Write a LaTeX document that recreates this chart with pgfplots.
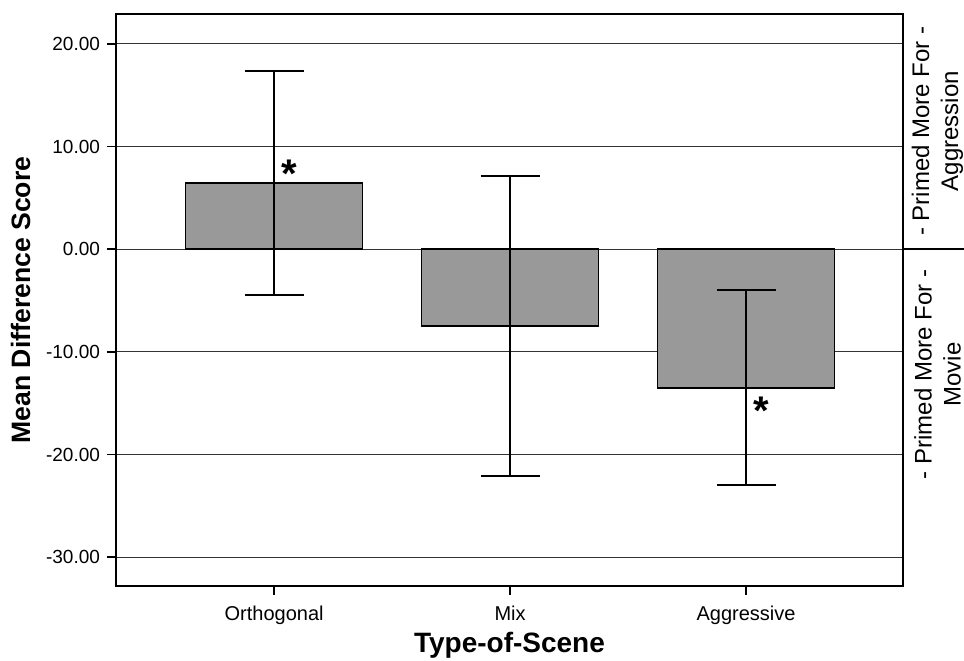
\documentclass[border=0pt]{standalone}
\usepackage{fontspec}
\setmainfont{Liberation Sans}
\usepackage{pgfplots}
\pgfplotsset{compat=1.18}
\definecolor{barfill}{HTML}{999999}
\begin{document}
\begin{tikzpicture}
\begin{axis}[
  at={(0,0)}, anchor=south west,
  scale only axis,
  width=393.5pt, height=286pt,
  xmin=-0.67, xmax=2.665,
  ymin=-32.8, ymax=22.9,
  xtick={0,1,2},
  xticklabels={Orthogonal,Mix,Aggressive},
  ytick={-30,-20,-10,0,10,20},
  yticklabel={\pgfmathprintnumber[fixed,fixed zerofill,precision=2]{\tick}},
  /pgf/number format/assume math mode=true,
  tick align=outside,
  major tick length=4.5pt,
  tick style={black, line width=0.8pt},
  xtick pos=bottom, ytick pos=left,
  ymajorgrids,
  grid style={black!80, line width=0.6pt},
  axis line style={black, line width=0.8pt},
  yticklabel style={font=\fontsize{9.5}{11}\selectfont},
  xticklabel style={font=\fontsize{10}{12}\selectfont, yshift=-2pt},
  xlabel={Type-of-Scene},
  ylabel={Mean Difference Score},
  xlabel style={font=\bfseries\fontsize{14}{16}\selectfont, yshift=3pt},
  ylabel style={font=\bfseries\fontsize{13.3}{15}\selectfont, yshift=1pt},
  clip=false,
]
\addplot[ybar, bar width=0.75, fill=barfill, draw=black, line width=0.7pt,
  error bars/.cd, y dir=both, y explicit,
  error bar style={line width=1pt, black},
  error mark options={rotate=90, mark size=14.75pt, line width=1pt, black}]
  coordinates {
    (0,6.45) +- (0,10.9)
    (1,-7.5) +- (0,14.6)
    (2,-13.5) +- (0,9.5)
  };
\node[font=\bfseries\fontsize{20}{20}\selectfont, inner sep=0pt, anchor=north] at (axis cs:0.066,8.7) {*};
\node[font=\bfseries\fontsize{20}{20}\selectfont, inner sep=0pt, anchor=north] at (axis cs:2.066,-14.35) {*};
\draw[black, line width=0.8pt] (axis cs:2.665,0) -- ([xshift=31pt]axis cs:2.665,0);
\node[rotate=90, align=center, font=\fontsize{12}{14.5}\selectfont, inner sep=0pt]
  at ([xshift=17.25pt]axis cs:2.665,11.5) {- Primed More For -\\Aggression};
\node[rotate=90, align=center, font=\fontsize{12}{14.5}\selectfont, inner sep=0pt]
  at ([xshift=17.25pt]axis cs:2.665,-12.2) {- Primed More For -\\Movie};
\end{axis}
\pgfresetboundingbox
\useasboundingbox (-58pt,-37pt) rectangle (424pt,293pt);
\end{tikzpicture}
\end{document}
